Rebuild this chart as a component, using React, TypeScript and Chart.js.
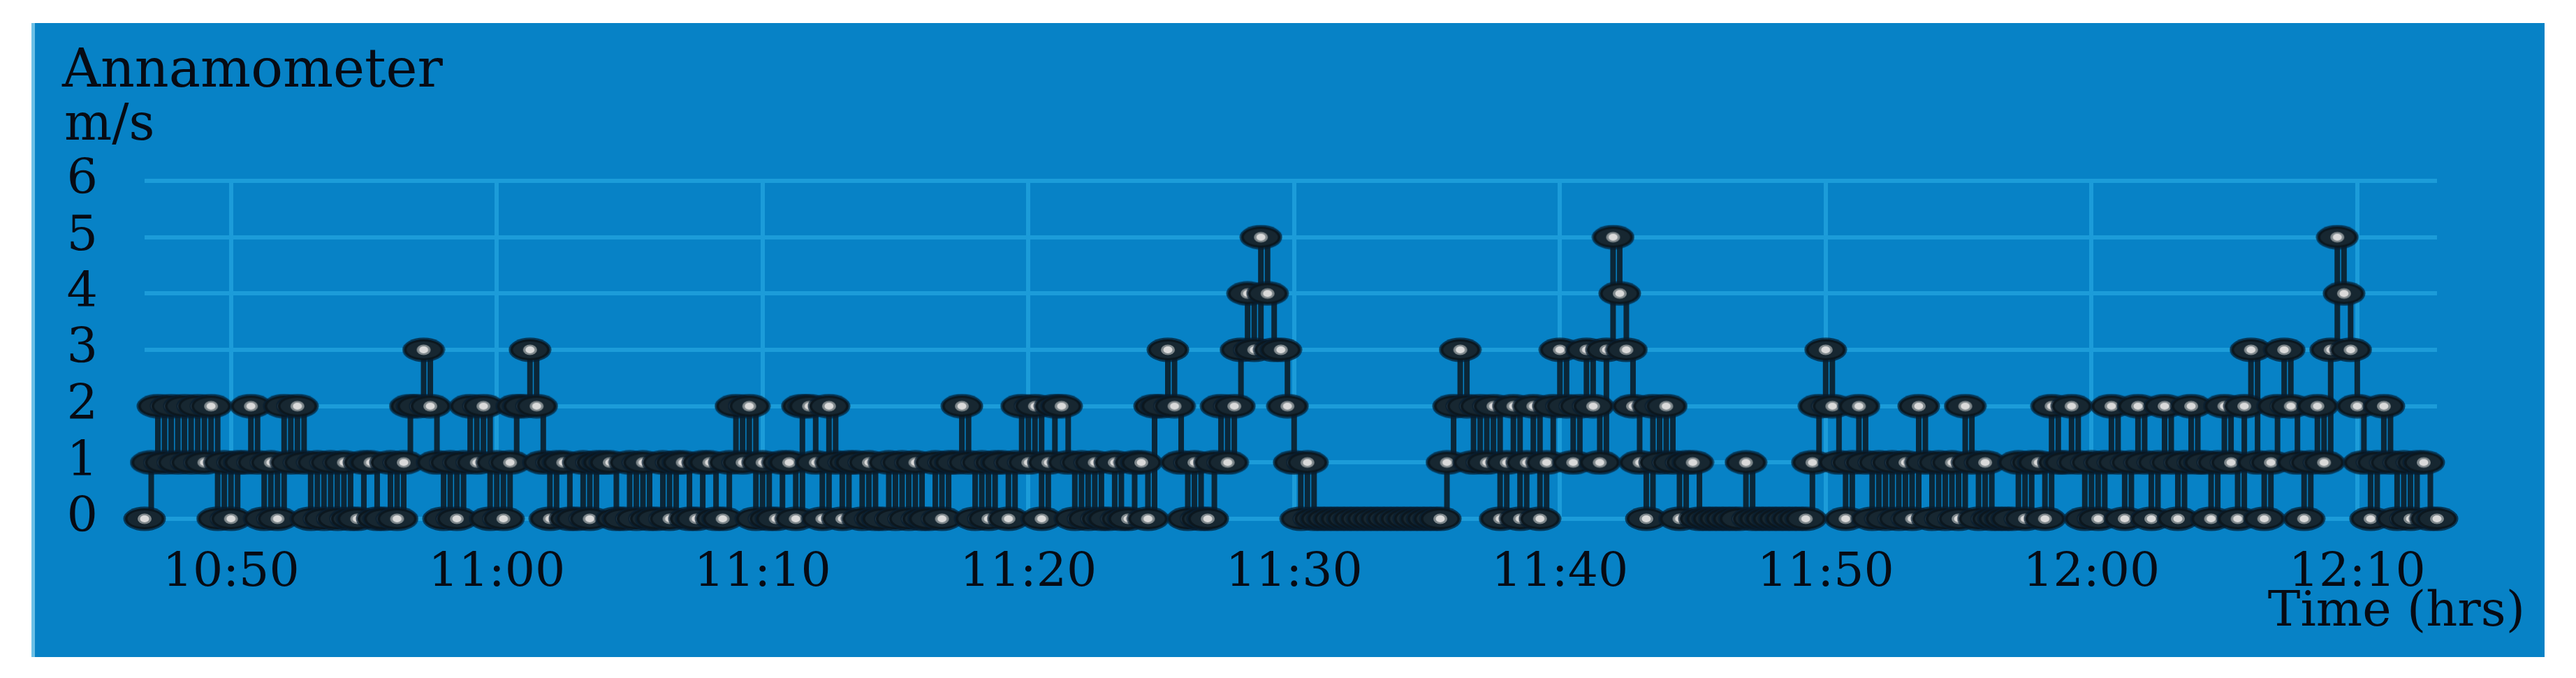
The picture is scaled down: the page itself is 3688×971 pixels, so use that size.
import { useEffect, useRef } from 'react';
import { Chart, registerables } from 'chart.js';

Chart.register(...registerables);

// sample times, minutes after 10:00 (15 s logger interval)
const timeMinutes = [
  46.75,
  47, 47.25, 47.5, 47.75,
  48, 48.25, 48.5, 48.75,
  49, 49.25, 49.5, 49.75,
  50, 50.25, 50.5, 50.75,
  51, 51.25, 51.5, 51.75,
  52, 52.25, 52.5, 52.75,
  53, 53.25, 53.5, 53.75,
  54, 54.25, 54.5, 54.75,
  55, 55.25, 55.5, 55.75,
  56, 56.25, 56.5, 56.75,
  57, 57.25, 57.5, 57.75,
  58, 58.25, 58.5, 58.75,
  59, 59.25, 59.5, 59.75,
  60, 60.25, 60.5, 60.75,
  61, 61.25, 61.5, 61.75,
  62, 62.25, 62.5, 62.75,
  63, 63.25, 63.5, 63.75,
  64, 64.25, 64.5, 64.75,
  65, 65.25, 65.5, 65.75,
  66, 66.25, 66.5, 66.75,
  67, 67.25, 67.5, 67.75,
  68, 68.25, 68.5, 68.75,
  69, 69.25, 69.5, 69.75,
  70, 70.25, 70.5, 70.75,
  71, 71.25, 71.5, 71.75,
  72, 72.25, 72.5, 72.75,
  73, 73.25, 73.5, 73.75,
  74, 74.25, 74.5, 74.75,
  75, 75.25, 75.5, 75.75,
  76, 76.25, 76.5, 76.75,
  77, 77.25, 77.5, 77.75,
  78, 78.25, 78.5, 78.75,
  79, 79.25, 79.5, 79.75,
  80, 80.25, 80.5, 80.75,
  81, 81.25, 81.5, 81.75,
  82, 82.25, 82.5, 82.75,
  83, 83.25, 83.5, 83.75,
  84, 84.25, 84.5, 84.75,
  85, 85.25, 85.5, 85.75,
  86, 86.25, 86.5, 86.75,
  87, 87.25, 87.5, 87.75,
  88, 88.25, 88.5, 88.75,
  89, 89.25, 89.5, 89.75,
  90, 90.25, 90.5, 90.75,
  91, 91.25, 91.5, 91.75,
  92, 92.25, 92.5, 92.75,
  93, 93.25, 93.5, 93.75,
  94, 94.25, 94.5, 94.75,
  95, 95.25, 95.5, 95.75,
  96, 96.25, 96.5, 96.75,
  97, 97.25, 97.5, 97.75,
  98, 98.25, 98.5, 98.75,
  99, 99.25, 99.5, 99.75,
  100, 100.25, 100.5, 100.75,
  101, 101.25, 101.5, 101.75,
  102, 102.25, 102.5, 102.75,
  103, 103.25, 103.5, 103.75,
  104, 104.25, 104.5, 104.75,
  105, 105.25, 105.5, 105.75,
  106, 106.25, 106.5, 106.75,
  107, 107.25, 107.5, 107.75,
  108, 108.25, 108.5, 108.75,
  109, 109.25, 109.5, 109.75,
  110, 110.25, 110.5, 110.75,
  111, 111.25, 111.5, 111.75,
  112, 112.25, 112.5, 112.75,
  113, 113.25, 113.5, 113.75,
  114, 114.25, 114.5, 114.75,
  115, 115.25, 115.5, 115.75,
  116, 116.25, 116.5, 116.75,
  117, 117.25, 117.5, 117.75,
  118, 118.25, 118.5, 118.75,
  119, 119.25, 119.5, 119.75,
  120, 120.25, 120.5, 120.75,
  121, 121.25, 121.5, 121.75,
  122, 122.25, 122.5, 122.75,
  123, 123.25, 123.5, 123.75,
  124, 124.25, 124.5, 124.75,
  125, 125.25, 125.5, 125.75,
  126, 126.25, 126.5, 126.75,
  127, 127.25, 127.5, 127.75,
  128, 128.25, 128.5, 128.75,
  129, 129.25, 129.5, 129.75,
  130, 130.25, 130.5, 130.75,
  131, 131.25, 131.5, 131.75,
  132, 132.25, 132.5, 132.75,
  133,
];

// anemometer reading, m/s
const windSpeed = [
  0,
  1, 2, 1, 2,
  1, 2, 1, 2,
  1, 2, 0, 1,
  0, 1, 1, 2,
  1, 0, 1, 0,
  2, 1, 2, 1,
  0, 1, 0, 1,
  0, 1, 0, 0,
  1, 1, 0, 0,
  1, 0, 1, 2,
  2, 3, 2, 1,
  0, 1, 0, 1,
  2, 1, 2, 0,
  1, 0, 1, 2,
  2, 3, 2, 1,
  0, 1, 1, 0,
  0, 1, 0, 1,
  1, 1, 0, 0,
  1, 0, 1, 0,
  0, 1, 0, 1,
  1, 0, 0, 1,
  1, 0, 0, 1,
  2, 1, 2, 0,
  1, 0, 0, 1,
  1, 0, 2, 2,
  1, 0, 2, 1,
  0, 1, 1, 0,
  1, 0, 0, 1,
  0, 1, 0, 1,
  0, 0, 1, 0,
  1, 1, 2, 1,
  0, 1, 0, 1,
  1, 0, 1, 2,
  1, 2, 0, 1,
  2, 2, 1, 0,
  1, 0, 1, 0,
  0, 1, 0, 0,
  1, 1, 0, 2,
  2, 3, 2, 1,
  0, 1, 0, 0,
  1, 2, 1, 2,
  3, 4, 3, 5,
  4, 3, 3, 2,
  1, 0, 1, 0,
  0, 0, 0, 0,
  0, 0, 0, 0,
  0, 0, 0, 0,
  0, 0, 0, 0,
  0, 0, 0, 1,
  2, 3, 2, 1,
  2, 1, 2, 0,
  1, 2, 0, 1,
  2, 0, 1, 2,
  3, 2, 1, 2,
  3, 2, 1, 3,
  5, 4, 3, 2,
  1, 0, 2, 1,
  2, 1, 0, 1,
  1, 0, 0, 0,
  0, 0, 0, 0,
  1, 0, 0, 0,
  0, 0, 0, 0,
  0, 0, 1, 2,
  3, 2, 1, 0,
  1, 2, 1, 0,
  1, 0, 1, 0,
  1, 0, 2, 1,
  0, 1, 0, 1,
  0, 2, 1, 0,
  1, 0, 0, 0,
  0, 1, 0, 1,
  1, 0, 2, 1,
  1, 2, 1, 0,
  1, 0, 1, 2,
  1, 0, 1, 2,
  1, 0, 1, 2,
  1, 0, 1, 2,
  1, 1, 0, 1,
  2, 1, 0, 2,
  3, 1, 0, 1,
  2, 3, 2, 1,
  0, 1, 2, 1,
  3, 5, 4, 3,
  2, 1, 0, 1,
  2, 1, 0, 1,
  0, 1, 1, 0,
  0,
];

const xTickMinutes = [50, 60, 70, 80, 90, 100, 110, 120, 130];
const xTickLabels = ['10:50', '11:00', '11:10', '11:20', '11:30', '11:40', '11:50', '12:00', '12:10'];
const yTickValues = [0, 1, 2, 3, 4, 5, 6];
const yAxisTitle = ['Annamometer', 'm/s'];
const xAxisTitle = 'Time (hrs)';

const FONT = '"DejaVu Serif", "Liberation Serif", serif';
const INK = '#070b14';

function makeMarker(): HTMLCanvasElement {
  const c = document.createElement('canvas');
  c.width = 62;
  c.height = 36;
  const g = c.getContext('2d')!;
  const cx = 31;
  const cy = 18;
  g.fillStyle = 'rgba(8,30,48,0.75)';
  g.beginPath();
  g.ellipse(cx, cy, 30.5, 17.5, 0, 0, Math.PI * 2);
  g.fill();
  g.fillStyle = '#0c171e';
  g.beginPath();
  g.ellipse(cx, cy, 28, 15, 0, 0, Math.PI * 2);
  g.fill();
  g.fillStyle = '#172731';
  g.beginPath();
  g.ellipse(cx, cy, 24.5, 12, 0, 0, Math.PI * 2);
  g.fill();
  g.fillStyle = '#7f888c';
  g.beginPath();
  g.ellipse(cx, cy, 10, 7.5, 0, 0, Math.PI * 2);
  g.fill();
  g.fillStyle = '#dadada';
  g.beginPath();
  g.ellipse(cx, cy, 6.5, 5, 0, 0, Math.PI * 2);
  g.fill();
  return c;
}

const framePlugin = {
  id: 'frame',
  beforeDraw(chart: any) {
    const ctx = chart.ctx as CanvasRenderingContext2D;
    ctx.save();
    ctx.fillStyle = '#ffffff';
    ctx.fillRect(0, 0, chart.width, chart.height);
    ctx.fillStyle = '#0782c6';
    ctx.fillRect(45, 33, 3598, 908);
    ctx.fillStyle = '#6cc0e6';
    ctx.fillRect(45, 33, 5, 908);
    ctx.restore();
  },
  afterDraw(chart: any) {
    const ctx = chart.ctx as CanvasRenderingContext2D;
    ctx.save();
    ctx.fillStyle = INK;
    ctx.font = `76px ${FONT}`;
    ctx.textBaseline = 'alphabetic';
    ctx.textAlign = 'left';
    ctx.fillText(yAxisTitle[0], 89, 124);
    ctx.font = `72px ${FONT}`;
    ctx.fillText(yAxisTitle[1], 92, 200);
    ctx.font = `70px ${FONT}`;
    ctx.textAlign = 'right';
    ctx.fillText(xAxisTitle, 3615, 896);
    ctx.restore();
  },
};

export default function App() {
  const ref = useRef<HTMLCanvasElement | null>(null);

  useEffect(() => {
    if (!ref.current) return;
    const marker = makeMarker();
    const chart = new Chart(ref.current, {
      type: 'line',
      data: {
        datasets: [
          {
            data: timeMinutes.map((t, i) => ({ x: t, y: windSpeed[i] })),
            borderColor: 'rgba(12,34,48,0.95)',
            borderWidth: 8,
            stepped: true,
            tension: 0,
            pointStyle: marker as any,
            pointRadius: 16,
            pointBorderWidth: 0,
            pointHoverRadius: 16,
            clip: false as any,
          },
        ],
      },
      options: {
        animation: false,
        responsive: false,
        devicePixelRatio: 1,
        events: [],
        layout: { padding: { left: 0, right: 199, top: 259, bottom: 128 } },
        plugins: {
          legend: { display: false },
          tooltip: { enabled: false },
          title: { display: false },
        },
        scales: {
          x: {
            type: 'linear',
            min: timeMinutes[0],
            max: timeMinutes[timeMinutes.length - 1],
            afterBuildTicks: (axis: any) => {
              axis.ticks = xTickMinutes.map((v) => ({ value: v }));
            },
            afterFit: (s: any) => {
              s.height = 100;
            },
            ticks: {
              autoSkip: false,
              maxRotation: 0,
              padding: 38,
              color: INK,
              font: { family: FONT, size: 68 },
              callback: (v: any) => {
                const i = xTickMinutes.indexOf(Number(v));
                return i >= 0 ? xTickLabels[i] : '';
              },
            },
            grid: { color: '#1c9cd9', lineWidth: 6, drawTicks: false },
            border: { display: false },
          },
          y: {
            type: 'linear',
            min: yTickValues[0],
            max: yTickValues[yTickValues.length - 1],
            afterBuildTicks: (axis: any) => {
              axis.ticks = yTickValues.map((v) => ({ value: v }));
            },
            afterFit: (s: any) => {
              s.width = 207;
            },
            ticks: {
              autoSkip: false,
              padding: 67,
              color: INK,
              font: { family: FONT, size: 70 },
              callback: (v: any) => String(v),
            },
            grid: { color: '#1c9cd9', lineWidth: 6, drawTicks: false },
            border: { display: false },
          },
        },
      },
      plugins: [framePlugin],
    });
    return () => chart.destroy();
  }, []);

  return (
    <div style={{ position: 'absolute', left: 0, top: 0, width: 3688, height: 971, background: '#ffffff' }}>
      <canvas ref={ref} width={3688} height={971} style={{ width: '3688px', height: '971px', display: 'block' }} />
    </div>
  );
}
